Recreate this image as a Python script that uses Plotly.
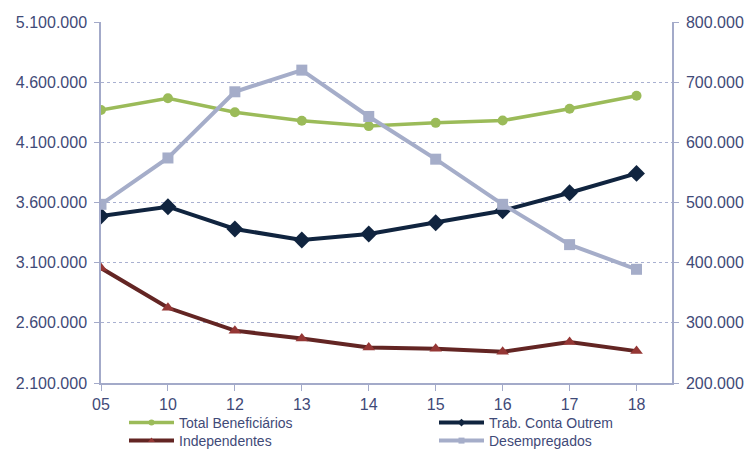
import plotly.graph_objects as go

# Years (two-digit labels) and beneficiary counts by group
years = ["05", "10", "12", "13", "14", "15", "16", "17", "18"]
total_beneficiarios = [4369000, 4466000, 4350000, 4280000, 4235000, 4262000, 4281000, 4379000, 4487000]
trab_conta_outrem = [3488000, 3565000, 3380000, 3288000, 3338000, 3432000, 3532000, 3681000, 3842000]
independentes = [391000, 325000, 287000, 274000, 259000, 257000, 252000, 268000, 253000]
desempregados = [497000, 574000, 684000, 720000, 643000, 572000, 497000, 430000, 389000]

left_ticks = [2100000, 2600000, 3100000, 3600000, 4100000, 4600000, 5100000]
right_ticks = [200000, 300000, 400000, 500000, 600000, 700000, 800000]


def fmt(v):
    return f"{v:,}".replace(",", ".")


TXT = "#3F4A78"
AXIS = "#A3AAC9"
FONT = "Liberation Sans, Arial, sans-serif"

series = [
    # name, values, axis, line colour, line width, marker symbol, size, marker colour, legend slot
    ("Total Beneficiários", total_beneficiarios, "y", "#9BBB59", 3.5, "circle", 10, "#9BBB59", "legend2"),
    ("Trab. Conta Outrem", trab_conta_outrem, "y", "#10243F", 4, "diamond", 13, "#10243F", "legend3"),
    ("Independentes", independentes, "y2", "#632523", 4, "triangle-up", 11, "#953735", "legend4"),
    ("Desempregados", desempregados, "y2", "#A5ADC9", 4, "square", 11, "#A5ADC9", "legend5"),
]

fig = go.Figure()

for name, vals, ax, lc, lw, sym, ms, mc, leg in series:
    fig.add_trace(go.Scatter(
        x=years, y=vals, name=name, mode="lines+markers", yaxis=ax,
        line=dict(color=lc, width=lw),
        marker=dict(symbol=sym, size=ms, color=mc),
        showlegend=False))

# legend keys: line with a small marker
for name, vals, ax, lc, lw, sym, ms, mc, leg in series:
    fig.add_trace(go.Scatter(
        x=[None], y=[None], name=name, mode="lines+markers", yaxis=ax,
        line=dict(color=lc, width=lw),
        marker=dict(symbol=sym, size=6, color=mc),
        legend=leg, hoverinfo="skip"))

legend_common = dict(
    xref="container", yref="container", xanchor="left", yanchor="middle",
    bgcolor="rgba(0,0,0,0)", font=dict(family=FONT, size=14, color=TXT),
    itemwidth=45,
)

fig.update_layout(
    width=751, height=451,
    margin=dict(l=101, r=79, t=22, b=68, autoexpand=False),
    paper_bgcolor="white", plot_bgcolor="white",
    font=dict(family=FONT, size=16, color=TXT),
    xaxis=dict(
        type="category", range=[0, 8.53],
        showline=True, linecolor=AXIS, linewidth=1.5,
        ticks="outside", ticklen=6, tickcolor=AXIS,
        showgrid=False, zeroline=False,
        tickfont=dict(family=FONT, size=16, color=TXT),
    ),
    yaxis=dict(
        range=[left_ticks[0], left_ticks[-1]],
        tickvals=left_ticks, ticktext=[fmt(v) for v in left_ticks],
        showline=True, linecolor=AXIS, linewidth=1.5,
        ticks="outside", ticklen=5, tickcolor=AXIS,
        showgrid=True, gridcolor="#A9B0D0", gridwidth=1, griddash="3px,3px",
        zeroline=False, ticklabelstandoff=4,
        tickfont=dict(family=FONT, size=16, color=TXT),
    ),
    yaxis2=dict(
        range=[right_ticks[0], right_ticks[-1]], overlaying="y", side="right",
        tickvals=right_ticks, ticktext=[fmt(v) for v in right_ticks],
        showline=True, linecolor=AXIS, linewidth=1.5,
        ticks="outside", ticklen=5, tickcolor=AXIS,
        showgrid=False, zeroline=False, ticklabelstandoff=4,
        tickfont=dict(family=FONT, size=16, color=TXT),
    ),
    legend2=dict(x=124 / 751, y=1 - 423 / 451, **legend_common),
    legend3=dict(x=434 / 751, y=1 - 423 / 451, **legend_common),
    legend4=dict(x=124 / 751, y=1 - 441 / 451, **legend_common),
    legend5=dict(x=434 / 751, y=1 - 441 / 451, **legend_common),
)

fig.write_html("out.html")
